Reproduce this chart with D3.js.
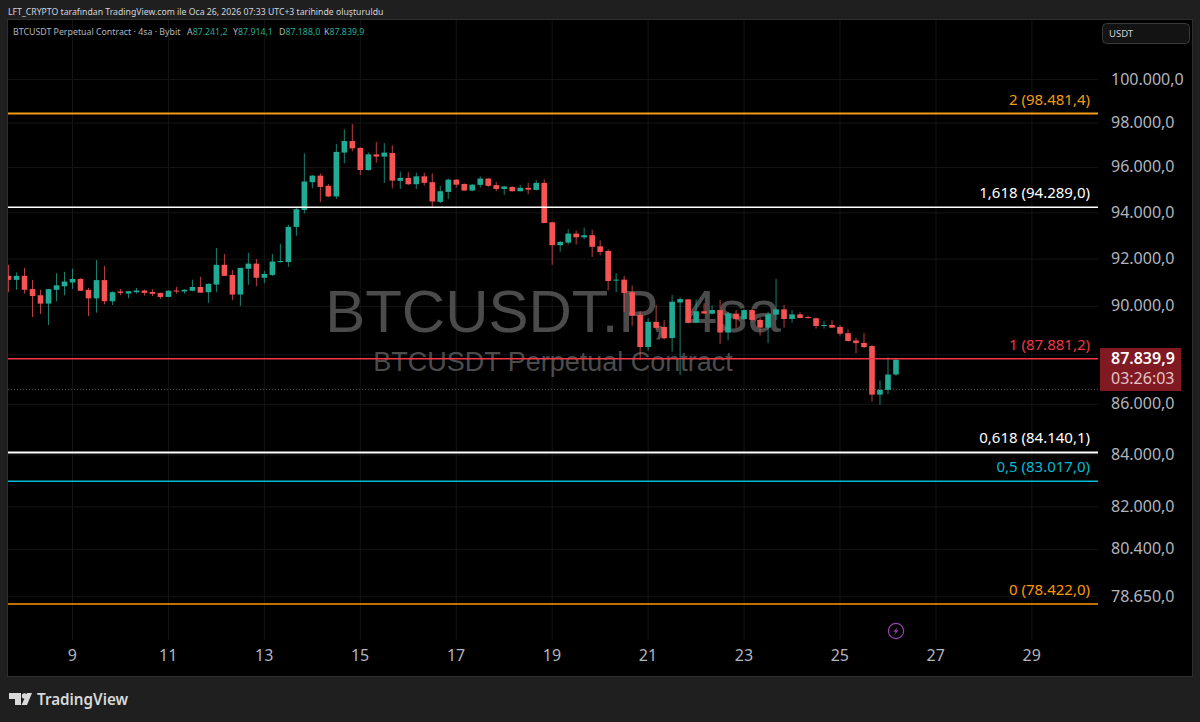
<!DOCTYPE html>
<html lang="tr">
<head>
  <meta charset="UTF-8" />
  <title>BTCUSDT Perpetual Contract 4sa</title>
  <script src="https://d3js.org/d3.v7.min.js"></script>
  <style>
    html, body { margin: 0; padding: 0; background: #1f1f1f; overflow: hidden; }
    svg { display: block; font-family: 'Noto Sans', sans-serif; }
    .axis path, .axis line { display: none; }
    .axis text { font-family: 'Noto Sans', sans-serif; font-size: 16px; fill: #b2b5be; }
    .grid line { stroke: #141414; stroke-width: 1; }
  </style>
</head>
<body>
  <svg id="chart" width="1200" height="722"></svg>

  <script>
    // 4h candles
    const opens = [91330,91160,91330,90770,90510,90160,90740,90890,91050,91200,90740,90380,91150,90260,90670,90580,90640,90710,90650,90610,90440,90710,90670,90700,90860,90640,90960,91800,91370,90540,91630,91850,91250,91370,91920,91920,93430,94170,95390,95680,95230,94760,96710,97230,96920,95930,96630,96530,96690,95450,95580,95300,95650,95390,94520,94960,95500,95310,95020,95270,95550,95260,95090,95180,94990,95140,95050,95360,93630,92640,92750,93140,92980,93070,92590,92390,91130,91170,90640,89690,88360,89400,89190,88730,90210,90340,89370,89840,89740,89890,88960,89740,89510,89890,89480,89160,89700,89920,89520,89710,89600,89550,89230,89270,89190,88930,88630,88530,88400,86430,86620,87241.2];
    const highs = [91800,91470,91670,91160,90740,90780,91440,91500,91630,91230,90820,92000,91750,90680,90770,90680,90820,90750,90770,90620,90720,90860,90770,91170,91290,91020,92520,92260,91580,91670,92310,92050,91540,92260,92700,93520,94300,96680,95710,95780,95310,97100,97760,98000,96950,96720,97190,97140,97040,95860,95830,95810,95810,95780,95230,95560,95530,95340,95300,95650,95580,95400,95230,95210,95270,95360,95480,95520,93660,92820,93330,93270,93400,93300,92850,92460,91440,91330,90920,89850,89550,90100,89480,90520,90420,90340,90340,90170,90090,90310,89820,89890,89920,89960,89590,89820,91200,90110,89890,89800,89660,89580,89440,89470,89270,89090,88750,88940,88450,86990,87940,87914.1];
    const lows = [90640,90740,90580,89600,89730,89270,90260,90510,90780,90700,89640,89780,90130,90100,90510,90380,90580,90500,90480,90360,90430,90580,90580,90670,90610,90190,90640,91330,90310,90060,90950,90890,91020,91320,91890,91710,93040,94020,95120,94520,94730,94650,96230,96770,95710,95900,96260,95360,95120,95090,95270,95090,95240,94260,94460,94650,95150,95010,94990,95150,95180,94990,94830,94980,94980,94860,95020,93600,91800,92360,92670,92670,92900,92130,92200,90720,90640,89810,89240,87830,88210,89060,88670,88170,87220,89330,89370,89730,89710,88490,88630,89140,89480,89410,88830,88520,89480,89160,89370,89550,89530,89120,89120,89150,88830,88600,88100,88320,86150,86020,86450,87188];
    const closes = [91160,91330,90740,90480,90160,90770,90930,91090,91200,90700,90380,91150,90260,90640,90610,90680,90710,90610,90570,90440,90700,90670,90740,90860,90620,90990,91800,91330,90540,91670,91850,91250,91410,91940,91960,93430,94200,95420,95680,95180,94760,96740,97230,96900,95930,96630,96530,96710,95460,95580,95300,95650,95360,94540,94990,95500,95280,95020,95280,95550,95230,95090,95200,94990,95140,95060,95360,93600,92640,92780,93140,92980,93070,92570,92350,91110,91170,90610,89660,88360,89400,89150,88720,90240,90350,89370,89840,89750,89890,88960,89750,89510,89890,89480,89160,89710,89920,89520,89710,89560,89580,89230,89270,89160,88910,88610,88520,88360,86430,86620,87240,87839.9];

    const fibLevels = ["2", "1,618", "1", "0,618", "0,5", "0"];
    const fibPrices = [98481.4, 94289.0, 87881.2, 84140.1, 83017.0, 78422.0];
    const fibColors = ["#f39c12", "#ffffff", "#f23645", "#ffffff", "#00bcd4", "#ff9800"];
    const fibWidths = [2, 1.6, 1.5, 2, 1.5, 1.5];

    const priceTicks = [100000, 98000, 96000, 94000, 92000, 90000, 86000, 84000, 82000, 80400, 78650];
    const dayTicks = [9, 11, 13, 15, 17, 19, 21, 23, 25, 27, 29];
    const firstBarDay = 7 + 4 / 6;
    const barsPerDay = 6;
    const lastPrice = 87839.9;
    const prevPrice = 86640;
    const countdown = "03:26:03";

    const legendTitle = "BTCUSDT Perpetual Contract · 4sa · Bybit";
    const legendKeys = ["A", "Y", "D", "K"];
    const legendValues = [87241.2, 87914.1, 87188.0, 87839.9];

    const green = "#22ab94", red = "#f65454";
    const paneLeft = 8, paneRight = 1098, paneTop = 20, paneBottom = 640, frameRight = 1192, frameBottom = 676;

    const svg = d3.select("#chart");
    const x = d3.scaleLinear().domain([9, 29]).range([72.5, 1031.9]);
    const y = d3.scaleLog().domain([78422, 98481.4]).range([604, 113.5]);
    const trFormat = d3.formatLocale({ decimal: ",", thousands: ".", grouping: [3], currency: ["", ""] }).format(",.1f");

    // frame
    svg.append("rect").attr("width", 1200).attr("height", 722).attr("fill", "#1f1f1f");
    svg.append("rect").attr("x", paneLeft - 0.5).attr("y", paneTop - 0.5)
      .attr("width", frameRight - paneLeft + 1).attr("height", frameBottom - paneTop + 1)
      .attr("fill", "#000").attr("stroke", "#2e2e2e").attr("stroke-width", 1);

    svg.append("defs").append("clipPath").attr("id", "pane").append("rect")
      .attr("x", paneLeft).attr("y", paneTop).attr("width", paneRight - paneLeft).attr("height", paneBottom - paneTop);

    // grid
    const grid = svg.append("g").attr("class", "grid");
    grid.selectAll(".h").data(priceTicks.concat([88000])).join("line").attr("class", "h")
      .attr("x1", paneLeft).attr("x2", paneRight)
      .attr("y1", d => y(d) - 1).attr("y2", d => y(d) - 1);
    grid.selectAll(".v").data(dayTicks).join("line").attr("class", "v")
      .attr("x1", d => x(d)).attr("x2", d => x(d))
      .attr("y1", paneTop).attr("y2", paneBottom);

    // watermark
    svg.append("text").attr("x", 553).attr("y", 332).attr("text-anchor", "middle")
      .style("font-family", "'Liberation Sans', sans-serif").style("font-size", "60px").attr("fill", "#4b4b4c")
      .text("BTCUSDT.P, 4sa");
    svg.append("text").attr("x", 553).attr("y", 371).attr("text-anchor", "middle")
      .style("font-family", "'Liberation Sans', sans-serif").style("font-size", "27px").attr("fill", "#4b4b4c")
      .text("BTCUSDT Perpetual Contract");

    // dotted previous close line
    svg.append("line").attr("x1", paneLeft).attr("x2", paneRight)
      .attr("y1", y(prevPrice)).attr("y2", y(prevPrice))
      .attr("stroke", "#555").attr("stroke-width", 1).attr("stroke-dasharray", "1 2");

    // candles
    const bars = opens.map((o, i) => ({
      day: firstBarDay + i / barsPerDay, o, h: highs[i], l: lows[i], c: closes[i]
    }));
    const candles = svg.append("g").attr("clip-path", "url(#pane)");
    candles.selectAll("line").data(bars).join("line")
      .attr("x1", d => x(d.day)).attr("x2", d => x(d.day))
      .attr("y1", d => y(d.h)).attr("y2", d => y(d.l))
      .attr("stroke", d => d.c >= d.o ? green : red)
      .attr("stroke-opacity", 0.75)
      .attr("stroke-width", 1);
    candles.selectAll("rect").data(bars).join("rect")
      .attr("x", d => x(d.day) - 2.8).attr("width", 5.6)
      .attr("y", d => y(Math.max(d.o, d.c)))
      .attr("height", d => Math.max(1, Math.abs(y(d.o) - y(d.c))))
      .attr("fill", d => d.c >= d.o ? green : red);

    // fib levels
    svg.append("g").selectAll("line").data(fibPrices).join("line")
      .attr("x1", paneLeft).attr("x2", paneRight)
      .attr("y1", d => y(d)).attr("y2", d => y(d))
      .attr("stroke", (d, i) => fibColors[i])
      .attr("stroke-width", (d, i) => fibWidths[i]);
    svg.append("g").selectAll("text").data(fibPrices).join("text")
      .attr("x", 1090).attr("y", d => y(d) - 9).attr("text-anchor", "end")
      .style("font-size", "15px")
      .attr("fill", (d, i) => fibColors[i])
      .text((d, i) => `${fibLevels[i]} (${trFormat(d)})`);

    // axes
    svg.append("g").attr("class", "axis").attr("transform", "translate(1111,0)")
      .call(d3.axisRight(y).tickValues(priceTicks).tickFormat(trFormat).tickSize(0).tickPadding(0))
      .selectAll("text").attr("dy", "0.22em");
    svg.append("g").attr("class", "axis").attr("transform", "translate(-0.7,650)")
      .call(d3.axisBottom(x).tickValues(dayTicks).tickFormat(d3.format("d")).tickSize(0).tickPadding(0));

    // last price tag
    svg.append("rect").attr("x", 1100).attr("y", 348).attr("width", 81).attr("height", 43).attr("fill", "#801922");
    svg.append("text").attr("x", 1111).attr("y", 364).style("font-size", "16px").style("font-weight", 600)
      .attr("fill", "#fff").text(trFormat(lastPrice));
    svg.append("text").attr("x", 1111).attr("y", 384).style("font-size", "16px")
      .attr("fill", "#e0c4c7").text(countdown);

    // currency box
    svg.append("rect").attr("x", 1102.5).attr("y", 23.5).attr("width", 87).attr("height", 20).attr("rx", 4)
      .attr("fill", "#131313").attr("stroke", "#3a3a3a");
    svg.append("text").attr("x", 1109).attr("y", 37).style("font-size", "9.5px").attr("fill", "#d1d4dc").text("USDT");

    // header
    svg.append("text").attr("x", 8).attr("y", 14.5).style("font-size", "8.7px").attr("fill", "#d1d4dc")
      .text("LFT_CRYPTO tarafından TradingView.com ile Oca 26, 2026 07:33 UTC+3 tarihinde oluşturuldu");
    svg.append("text").attr("x", 13).attr("y", 35).style("font-size", "8.8px").attr("fill", "#b2b5be").text(legendTitle);
    const legendX = [187, 233, 279, 324];
    legendKeys.forEach((k, i) => {
      const t = svg.append("text").attr("x", legendX[i]).attr("y", 35).style("font-size", "8.8px").attr("fill", "#b2b5be");
      t.append("tspan").text(k);
      t.append("tspan").attr("fill", green).text(trFormat(legendValues[i]));
    });

    // lightning marker
    const marker = svg.append("g").attr("transform", "translate(896,631)");
    marker.append("circle").attr("r", 7.6).attr("fill", "none").attr("stroke", "#9c3fb0").attr("stroke-width", 1.2);
    marker.append("path").attr("d", "M1.8,-4 L-2.6,0.8 L-0.2,0.8 L-1.8,4 L2.6,-0.8 L0.2,-0.8 Z").attr("fill", "#9c3fb0");

    // TradingView logo
    const logo = svg.append("g").attr("fill", "#d9d9d9");
    logo.append("path").attr("d", "M9,693 H21 V705 H15 V699 H9 Z");
    logo.append("circle").attr("cx", 24.5).attr("cy", 696).attr("r", 2.7);
    logo.append("path").attr("d", "M27,693 H32 L27,705 H21.5 Z");
    svg.append("text").attr("x", 37).attr("y", 705).style("font-size", "15.2px").style("font-weight", 600)
      .attr("fill", "#d9d9d9").text("TradingView");
  </script>
</body>
</html>
